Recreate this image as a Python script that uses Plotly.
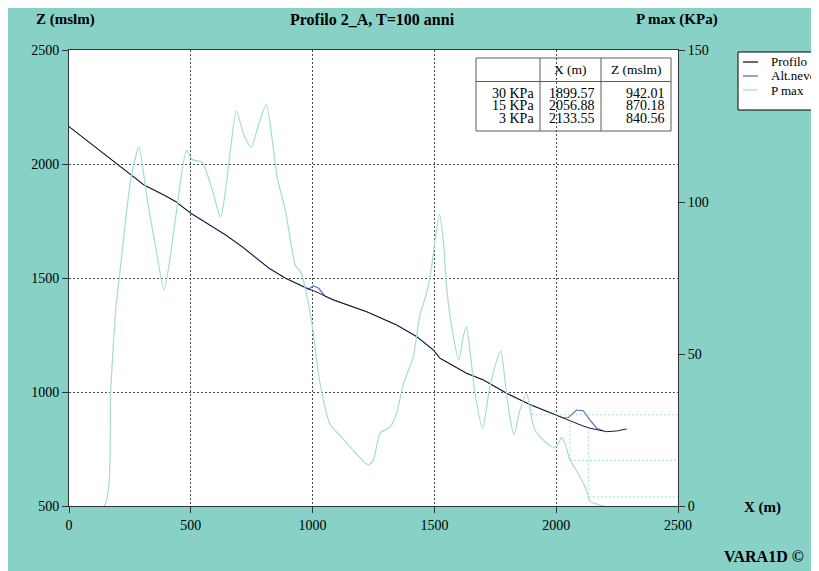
import plotly.graph_objects as go

# ---------------- data ----------------
x_profilo = [0, 100, 205, 260, 308, 397, 438, 500, 643, 711, 821, 889, 948, 985, 1003,
             1040, 1085, 1222, 1345, 1427, 1496, 1523, 1632, 1701, 1797, 1892, 1995,
             2030, 2070, 2110, 2139, 2170, 2207, 2248, 2289]
z_profilo = [2164, 2082, 1996, 1947, 1908, 1860, 1835, 1784, 1689, 1637, 1543, 1499, 1469,
             1450, 1445, 1425, 1404, 1352, 1294, 1243, 1184, 1148, 1082, 1053, 994, 945,
             899, 885, 866, 851, 841, 834, 826, 829, 838]

x_neve = [0, 100, 205, 260, 308, 397, 438, 500, 643, 711, 821, 889, 948, 985, 1003, 1025,
          1051, 1085, 1222, 1345, 1427, 1496, 1523, 1632, 1701, 1797, 1892, 1995, 2030,
          2050, 2070, 2084, 2111, 2125, 2139, 2166, 2193]
z_neve = [2164, 2082, 1996, 1947, 1908, 1860, 1835, 1784, 1689, 1637, 1543, 1499, 1469,
          1452, 1466, 1455, 1420, 1404, 1352, 1294, 1243, 1184, 1148, 1082, 1053, 994,
          945, 900, 886, 888, 905, 921, 918, 900, 877, 841, 830]

x_pmax = [0, 144, 171, 192, 205, 253, 287, 321, 356, 390, 410, 438, 482, 506, 547, 588,
          622, 643, 664, 687, 718, 748, 780, 810, 835, 855, 889, 930, 952, 989, 1003,
          1023, 1044, 1071, 1126, 1181, 1229, 1249, 1277, 1318, 1345, 1372, 1413, 1441,
          1468, 1489, 1502, 1520, 1537, 1550, 1575, 1600, 1619, 1632, 1646, 1667, 1698,
          1725, 1749, 1773, 1790, 1810, 1827, 1851, 1879, 1895, 1913, 1947, 1981, 2002,
          2022, 2036, 2057, 2098, 2125, 2139, 2180, 2200]
p_max = [0, 0, 38, 65, 74, 107, 118, 101, 85, 71, 79, 95, 117, 114, 113, 104,
         95, 104, 118, 130, 122, 118, 126, 132, 120, 108, 97, 79, 77, 64, 57,
         44, 35, 27, 22, 17, 13.5, 15, 24, 26, 30.5, 40, 49, 63,
         70, 79, 87, 96, 87, 72, 57, 48, 56, 59, 51, 37, 25.5,
         38, 46, 51, 41, 29, 23.5, 31.5, 37, 30.5, 25, 21.7, 19.5, 19.5,
         22.6, 20.6, 15.1, 9.6, 5, 1.5, 0.3, 0]

soglie_label = ["30 KPa", "15 KPa", "3 KPa"]
soglie_p = [30, 15, 3]
soglie_x = [1899.57, 2056.88, 2133.55]
soglie_z = [942.01, 870.18, 840.56]

x_ticks = [0, 500, 1000, 1500, 2000, 2500]
z_ticks = [500, 1000, 1500, 2000, 2500]
p_ticks = [0, 50, 100, 150]

# ---------------- style ----------------
BG = "#87d1c6"
SERIF = "Liberation Serif, Times New Roman, serif"
C_PROF = "#1a1a1a"
C_NEVE = "#5b6fc2"
C_PMAX = "#a6dccf"
GRID = "#4a4a4a"

Z_RANGE = [500, 2500]
P_RANGE = [0, 150]
X_RANGE = [0, 2500]

fig = go.Figure()
fig.add_trace(go.Scatter(x=x_pmax, y=p_max, name="P max", yaxis="y2", mode="lines",
                         line=dict(color=C_PMAX, width=1.2, shape="spline", smoothing=0.6)))
fig.add_trace(go.Scatter(x=x_neve, y=z_neve, name="Alt.neve", mode="lines",
                         line=dict(color=C_NEVE, width=1.2)))
fig.add_trace(go.Scatter(x=x_profilo, y=z_profilo, name="Profilo", mode="lines",
                         line=dict(color=C_PROF, width=1)))

shapes = []


def z_to_p(z):
    return (z - Z_RANGE[0]) / (Z_RANGE[1] - Z_RANGE[0]) * (P_RANGE[1] - P_RANGE[0]) + P_RANGE[0]


for xs, zs, ps in zip(soglie_x, soglie_z, soglie_p):
    shapes.append(dict(type="line", xref="x", yref="y2", x0=xs, x1=X_RANGE[1], y0=ps, y1=ps,
                       line=dict(color=C_PMAX, width=1, dash="2px,2px"), layer="above"))
    shapes.append(dict(type="line", xref="x", yref="y2", x0=xs, x1=xs, y0=z_to_p(zs), y1=ps,
                       line=dict(color=C_PMAX, width=1, dash="2px,2px"), layer="above"))

# table frame (paper coords)
tx0, tx1, tc1, tc2 = (476 - 69) / 609, (671 - 69) / 609, (540 - 69) / 609, (601 - 69) / 609
ty0, ty1, thd = (506 - 58) / 456, (506 - 131) / 456, (506 - 81.5) / 456
TBL = "#5a5a5a"
shapes.append(dict(type="rect", xref="paper", yref="paper", x0=tx0, x1=tx1, y0=ty1, y1=ty0,
                   line=dict(color=TBL, width=1), fillcolor="rgba(0,0,0,0)"))
for cx in (tc1, tc2):
    shapes.append(dict(type="line", xref="paper", yref="paper", x0=cx, x1=cx, y0=ty1, y1=ty0,
                       line=dict(color=TBL, width=1)))
shapes.append(dict(type="line", xref="paper", yref="paper", x0=tx0, x1=tx1, y0=thd, y1=thd,
                   line=dict(color=TBL, width=1)))

# manual legend
lx0, lx1, ly0, ly1 = (738 - 69) / 609, 1.25, (506 - 52) / 456, (506 - 110) / 456
shapes.append(dict(type="rect", xref="paper", yref="paper", x0=lx0, x1=lx1, y0=ly1, y1=ly0,
                   line=dict(color="#000000", width=1), fillcolor="white", layer="below"))
leg_names = ["Profilo", "Alt.neve", "P max"]
leg_colors = [C_PROF, C_NEVE, C_PMAX]
leg_y = [(506 - 62) / 456, (506 - 76) / 456, (506 - 90) / 456]
annotations = []
for n, c, yy in zip(leg_names, leg_colors, leg_y):
    shapes.append(dict(type="line", xref="paper", yref="paper", x0=(743 - 69) / 609,
                       x1=(758 - 69) / 609, y0=yy, y1=yy, line=dict(color=c, width=1.3)))
    annotations.append(dict(text=n, xref="paper", yref="paper", x=(769 - 69) / 609, y=yy,
                            xanchor="left", yanchor="middle", showarrow=False,
                            font=dict(family=SERIF, size=13, color="black")))

# table texts
hy = (506 - 69.5) / 456
annotations.append(dict(text="X (m)", xref="paper", yref="paper", x=(tc1 + tc2) / 2, y=hy,
                        showarrow=False, xanchor="center", yanchor="middle",
                        font=dict(family=SERIF, size=13.5, color="black")))
annotations.append(dict(text="Z (mslm)", xref="paper", yref="paper", x=(tc2 + tx1) / 2, y=hy,
                        showarrow=False, xanchor="center", yanchor="middle",
                        font=dict(family=SERIF, size=13.5, color="black")))
row_py = [93.3, 105.8, 118.3]
for lab_, xs, zs, py in zip(soglie_label, soglie_x, soglie_z, row_py):
    yy = (506 - py) / 456
    for txt, xr in ((lab_, tc1 - 0.006), (f"{xs:.2f}", tc2 - 0.006), (f"{zs:.2f}", tx1 - 0.007)):
        annotations.append(dict(text=txt, xref="paper", yref="paper", x=xr, y=yy,
                                showarrow=False, xanchor="right", yanchor="middle",
                                font=dict(family=SERIF, size=14, color="black")))


def lab(text, x, y, size, anchor="center"):
    annotations.append(dict(text=f"<b>{text}</b>", xref="paper", yref="paper", x=x, y=y,
                            showarrow=False, xanchor=anchor, yanchor="middle",
                            font=dict(family=SERIF, size=size, color="black")))


lab("Profilo 2_A, T=100 anni", (372 - 69) / 609, (506 - 19) / 456, 16)
lab("Z (mslm)", (65 - 69) / 609, (506 - 19) / 456, 15)
lab("P max (KPa)", (677 - 69) / 609, (506 - 19) / 456, 15)
lab("X (m)", (762 - 69) / 609, (506 - 508) / 456, 15)
lab("VARA1D ©", (764 - 69) / 609, (506 - 556) / 456, 16)

axis_font = dict(family=SERIF, size=14, color="black")
fig.update_layout(
    width=811, height=563,
    margin=dict(l=61, r=141, t=42, b=65),
    paper_bgcolor=BG, plot_bgcolor="white",
    showlegend=False,
    shapes=shapes, annotations=annotations,
    xaxis=dict(range=X_RANGE, tickvals=x_ticks, ticks="outside", ticklen=6, tickcolor="#333",
               showline=True, linecolor="#333", linewidth=1, mirror=True,
               showgrid=True, gridcolor=GRID, gridwidth=1, griddash="2px,2px",
               zeroline=False, tickfont=axis_font),
    yaxis=dict(range=Z_RANGE, tickvals=z_ticks, ticks="outside", ticklen=6, tickcolor="#333",
               showline=True, linecolor="#333", linewidth=1,
               showgrid=True, gridcolor=GRID, gridwidth=1, griddash="2px,2px",
               zeroline=False, tickfont=axis_font),
    yaxis2=dict(range=P_RANGE, tickvals=p_ticks, overlaying="y", side="right",
                ticks="outside", ticklen=6, tickcolor="#333",
                showline=True, linecolor="#333", linewidth=1,
                showgrid=False, zeroline=False, tickfont=axis_font),
)

fig.write_html("out.html")
